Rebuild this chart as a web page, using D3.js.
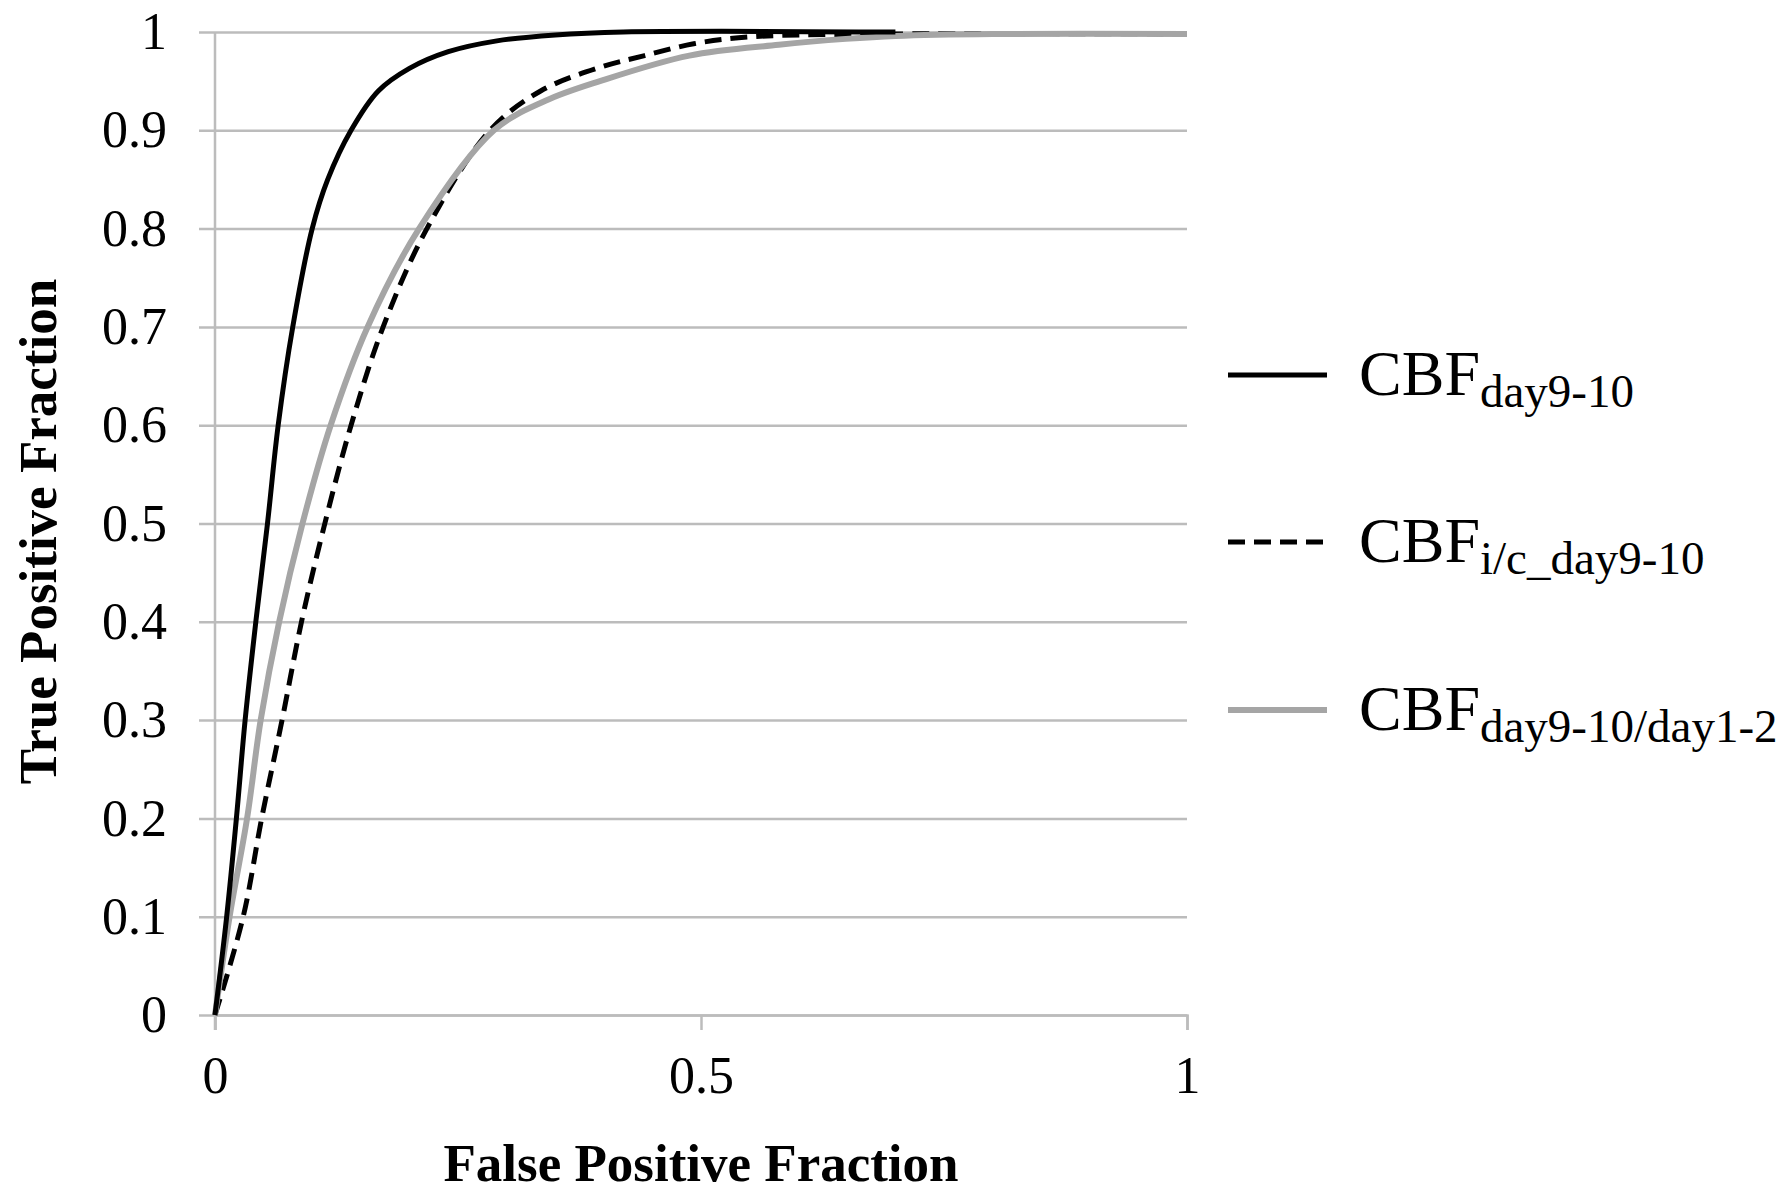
<!DOCTYPE html>
<html>
<head>
<meta charset="utf-8">
<script src="https://cdn.jsdelivr.net/npm/d3@7"></script>
<style>
  body { margin: 0; background: #fff; }
  text { font-family: "Liberation Serif", "Times New Roman", serif; fill: #000; }
</style>
</head>
<body>
<svg id="chart"></svg>
<script>
// ROC curves as [false positive, true positive]
const cbfDay = [[0,0],[0.012,0.1],[0.022,0.2],[0.031,0.3],[0.042,0.4],[0.054,0.5],[0.065,0.6],[0.080,0.7],[0.100,0.8],[0.116,0.85],[0.14,0.9],[0.168,0.94],[0.2,0.963],[0.24,0.98],[0.29,0.991],[0.35,0.997],[0.42,1],[0.7,1]];
const cbfIc = [[0,0],[0.029,0.1],[0.048,0.2],[0.069,0.3],[0.089,0.4],[0.113,0.5],[0.140,0.6],[0.173,0.7],[0.218,0.8],[0.283,0.9],[0.335,0.94],[0.396,0.964],[0.442,0.976],[0.4925,0.988],[0.55,0.995],[0.7,0.998],[1,0.998]];
const cbfRatio = [[0,0],[0.015,0.1],[0.033,0.2],[0.047,0.3],[0.066,0.4],[0.090,0.5],[0.119,0.6],[0.157,0.7],[0.21,0.8],[0.287,0.9],[0.34,0.93],[0.396,0.95],[0.488,0.976],[0.58,0.987],[0.649,0.993],[0.7,0.996],[0.8,0.998],[1,0.998]];

const seriesNames = ["day9-10", "i/c_day9-10", "day9-10/day1-2"];
const xTicks = [0, 0.5, 1];
const yTicks = [0, 0.1, 0.2, 0.3, 0.4, 0.5, 0.6, 0.7, 0.8, 0.9, 1];
const xTitle = "False Positive Fraction";
const yTitle = "True Positive Fraction";

const W = 1786, H = 1192;
const mLeft = 215, mTop = 32, w = 972, h = 983;
const gridColor = "#bcbcbc";
const serif = "Liberation Serif, Times New Roman, serif";

const svg = d3.select("#chart").attr("width", W).attr("height", H);
svg.append("rect").attr("width", W).attr("height", H).attr("fill", "#fff");

const x = d3.scaleLinear().domain([0, 1]).range([0, w]);
const y = d3.scaleLinear().domain([0, 1]).range([h, 0]);

const g = svg.append("g").attr("transform", `translate(${mLeft},${mTop})`);

// horizontal gridlines + y labels
let yAxis = g.append("g")
	.call(d3.axisLeft(y).tickValues(yTicks).tickFormat(d => String(d)).tickSize(-w).tickPadding(48));
yAxis.select(".domain").remove();
yAxis.selectAll(".tick line").attr("x1", -16).attr("x2", w).attr("stroke", gridColor).attr("stroke-width", 2.5);
yAxis.selectAll(".tick text").attr("font-size", 52).attr("font-family", serif).attr("fill", "#000");

// vertical axis line
g.append("line").attr("x1", 0).attr("x2", 0).attr("y1", 0).attr("y2", h + 15)
	.attr("stroke", gridColor).attr("stroke-width", 2.5);

// x axis ticks + labels
let xAxis = g.append("g").attr("transform", `translate(0,${h})`)
	.call(d3.axisBottom(x).tickValues(xTicks).tickFormat(d => String(d)).tickSizeOuter(0).tickSize(15).tickPadding(26));
xAxis.select(".domain").attr("stroke", gridColor).attr("stroke-width", 2.5);
xAxis.selectAll(".tick line").attr("stroke", gridColor).attr("stroke-width", 2.5);
xAxis.selectAll(".tick text").attr("font-size", 52).attr("font-family", serif).attr("fill", "#000");

// curves
let line = d3.line().x(d => x(d[0])).y(d => y(d[1])).curve(d3.curveCatmullRom.alpha(0.5));

let styles = [
	{data: cbfDay, color: "#000", width: 5, dash: null},
	{data: cbfIc, color: "#000", width: 5, dash: "17,9"},
	{data: cbfRatio, color: "#a5a5a5", width: 6, dash: null}
];

// dashed first, then gray, black on top
for (let i of [1, 2, 0]) {
	let s = styles[i];
	g.append("path").attr("d", line(s.data)).attr("fill", "none")
		.attr("stroke", s.color).attr("stroke-width", s.width)
		.attr("stroke-dasharray", s.dash).attr("stroke-linejoin", "round");
}

// axis titles
svg.append("text").attr("x", mLeft + w / 2).attr("y", 1181).attr("text-anchor", "middle")
	.attr("font-size", 53).attr("font-weight", "bold").text(xTitle);
svg.append("text").attr("transform", `translate(56,${mTop + h / 2 + 8}) rotate(-90)`).attr("text-anchor", "middle")
	.attr("font-size", 53).attr("font-weight", "bold").text(yTitle);

// legend
let legendY = [375, 542, 710];
styles.forEach((s, i) => {
	let ly = legendY[i];
	svg.append("line").attr("x1", 1228).attr("x2", 1327).attr("y1", ly).attr("y2", ly)
		.attr("stroke", s.color).attr("stroke-width", s.width).attr("stroke-dasharray", s.dash);
	let t = svg.append("text").attr("x", 1359).attr("y", ly + 20).attr("font-size", 64);
	t.append("tspan").text("CBF");
	t.append("tspan").attr("font-size", 47).attr("dy", 12).text(seriesNames[i]);
});
</script>
</body>
</html>
